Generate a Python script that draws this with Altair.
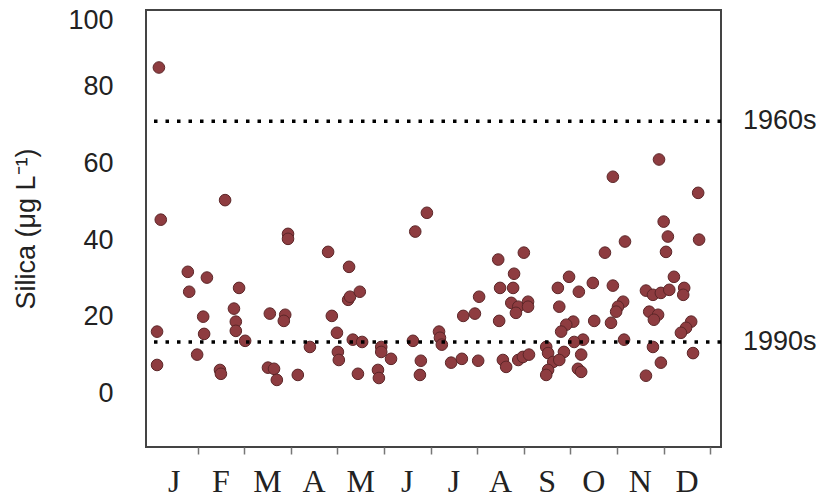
import altair as alt
import pandas as pd

# decimal month position (0 = start of January) and silica concentration (ug/L)
month_pos = [
    0.17, 0.21, 0.13, 0.13,
    0.79, 0.82, 1.20, 1.12, 1.14, 0.99, 1.48, 1.50, 1.59,
    1.78, 1.82, 1.82, 1.89, 2.02, 2.55, 2.51, 2.64, 2.70,
    2.88, 2.85, 2.94, 2.94, 3.15, 3.41,
    3.80, 3.88, 3.99, 4.01, 4.03, 4.25, 4.23, 4.27, 4.48, 4.33, 4.53, 4.44,
    4.87, 4.89, 4.94, 4.94, 5.15,
    5.62, 5.79, 5.77, 5.67, 5.92, 6.18, 6.20, 6.24, 6.44, 6.67, 7.02,
    6.70, 6.95, 7.04, 7.47, 7.45, 7.49, 7.79, 7.77, 7.73, 7.88, 7.83,
    8.00, 7.55, 7.62, 7.88, 7.98, 8.09, 8.09,
    8.97, 8.73, 9.18, 9.48, 9.91, 11.22, 10.62, 10.77, 10.94, 11.12, 11.44,
    11.42, 10.13, 10.02, 9.98, 8.76, 10.69, 10.88, 10.79, 9.06, 8.91, 8.80,
    9.51, 9.87, 11.59, 11.48, 11.37, 10.15, 9.27, 9.08, 8.48, 8.11, 8.52,
    8.86, 9.23, 10.77, 11.63, 8.63, 8.76, 8.52, 8.48, 9.16, 9.23, 10.94,
    10.62, 10.90, 9.91, 11.74, 11.00, 11.09, 11.05, 11.76, 10.17, 9.74,
]
silica = [
    85.0, 45.3, 16.1, 7.4,
    31.7, 26.5, 30.2, 20.0, 15.5, 10.1, 6.1, 5.1, 50.4,
    22.1, 18.7, 16.3, 27.5, 13.7, 20.8, 6.7, 6.4, 3.5,
    20.5, 18.9, 41.6, 40.3, 4.8, 12.1,
    36.9, 20.2, 15.8, 10.8, 8.7, 33.0, 24.4, 25.2, 26.5, 14.0, 13.4, 5.1,
    6.1, 4.0, 12.1, 10.8, 9.0,
    13.7, 8.5, 4.8, 42.2, 47.1, 16.1, 14.5, 12.7, 8.0, 9.0, 8.5,
    20.2, 20.8, 25.2, 18.9, 34.9, 27.5, 31.2, 27.5, 23.6, 22.6, 21.0,
    36.7, 8.7, 6.9, 8.7, 9.5, 23.9, 22.6,
    30.4, 27.5, 26.5, 28.8, 28.1, 30.4, 26.8, 25.7, 26.2, 27.0, 27.5,
    25.7, 23.9, 22.6, 21.3, 22.6, 21.3, 20.5, 19.2, 18.7, 17.9, 16.1,
    18.9, 18.4, 18.7, 17.1, 15.8, 14.0, 14.0, 13.4, 12.1, 10.1, 10.5,
    10.8, 10.1, 12.1, 10.5, 8.2, 8.7, 6.1, 4.8, 6.4, 5.6, 8.0,
    4.6, 61.0, 56.5, 52.3, 44.8, 40.9, 36.9, 40.1, 39.6, 36.7,
]
months = ["J", "F", "M", "A", "M", "J", "J", "A", "S", "O", "N", "D"]
decades = ["1960s", "1990s"]
decade_levels = [71.0, 13.4]
y_ticks = [0, 20, 40, 60, 80, 100]
month_ticks = list(range(1, 13))

pts = pd.DataFrame({"m": month_pos, "s": silica})
mon = pd.DataFrame({"label": months, "pos": [i + 0.5 for i in range(len(months))]})
ref = pd.DataFrame({"decade": decades, "v": decade_levels})

xs = alt.Scale(domain=[-0.107, 12.23], nice=False, zero=False)
ys = alt.Scale(domain=[-14, 100], nice=False, zero=False)

x_axis = alt.Axis(
    values=month_ticks, labels=False, domain=False, ticks=True,
    tickSize=7, tickColor="#777", tickWidth=1.5, grid=False, title=None)
y_axis = alt.Axis(
    values=y_ticks, domain=False, ticks=False, grid=False,
    labelFontSize=27, labelFont="Liberation Sans", labelPadding=33,
    labelColor="#222",
    labelOffset={"condition": {"test": "datum.value == 100", "value": 10}, "value": 0},
    title="Silica (μg L⁻¹)", titleFontSize=27, titleFont="Liberation Sans",
    titleFontWeight="normal", titlePadding=27, titleColor="#222")

points = alt.Chart(pts).mark_circle(
    size=135, opacity=1, color="#8e3c40", stroke="#5c2628", strokeWidth=1
).encode(
    x=alt.X("m:Q", scale=xs, axis=x_axis, title=None),
    y=alt.Y("s:Q", scale=ys, axis=y_axis, title="Silica (μg L⁻¹)"),
)

rules = alt.Chart(ref).mark_rule(
    color="black", strokeWidth=3.5, strokeDash=[3.5, 8]
).encode(y=alt.Y("v:Q", scale=ys, axis=y_axis, title="Silica (μg L⁻¹)"))

dec_text = alt.Chart(ref).mark_text(
    align="left", baseline="middle", fontSize=27, font="Liberation Sans", color="#222"
).encode(x=alt.value(597), y=alt.Y("v:Q", scale=ys, axis=y_axis, title="Silica (μg L⁻¹)"),
         text="decade:N")

mon_text = alt.Chart(mon).mark_text(
    baseline="middle", fontSize=32, font="Liberation Serif", color="#222"
).encode(x=alt.X("pos:Q", scale=xs, axis=x_axis, title=None), y=alt.value(472),
         text="label:N")

chart = alt.layer(points, rules, dec_text, mon_text).properties(
    width=575, height=437,
    padding={"left": 146, "top": 10, "right": 116, "bottom": 53},
    autosize=alt.AutoSizeParams(type="none"),
).configure_view(stroke="#444", strokeWidth=2)

chart.save("out.html", embed_options={"renderer": "svg", "actions": False})
